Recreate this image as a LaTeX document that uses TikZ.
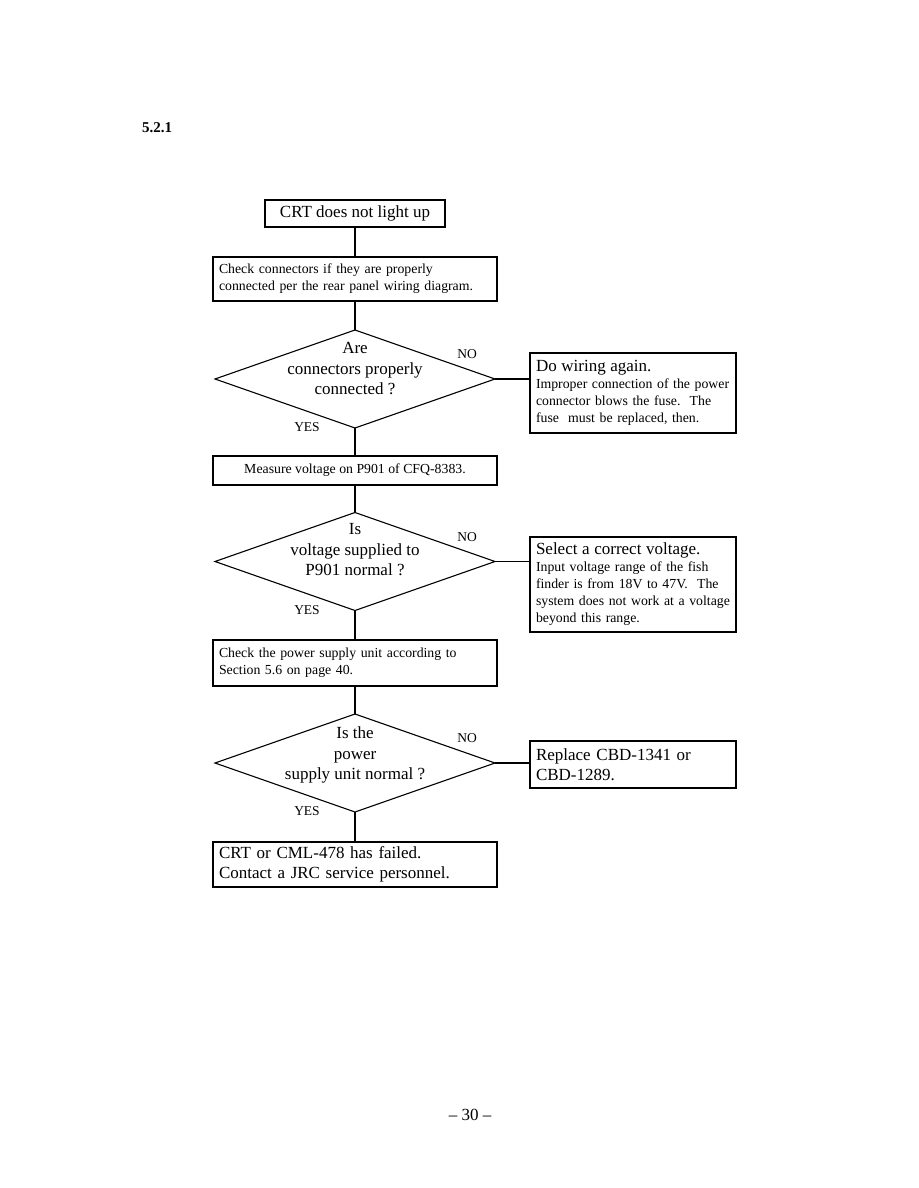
\documentclass[tikz,border=0pt]{standalone}
\usepackage{fontspec}
\setmainfont{Liberation Serif}
\usetikzlibrary{shapes.geometric}
\begin{document}
\begin{tikzpicture}[x=1pt,y=-1pt,
  line width=1.1pt,
  box/.style={draw, rectangle, inner ysep=0pt, inner xsep=6pt, outer sep=0pt},
  big/.style={font=\fontsize{17}{20.5}\selectfont},
  small/.style={font=\fontsize{13.8}{17}\selectfont},
  lbox/.style={box, align=left, text width=#1},
  dia/.style={draw, diamond, minimum width=280pt, minimum height=98pt, inner sep=0pt, outer sep=0pt},
  dtext/.style={big, align=center},
  lab/.style={font=\fontsize{13.5}{15}\selectfont},
  page/.style={inner sep=0pt}
]
\useasboundingbox (0,0) rectangle (918,1188);

\node[page, font=\fontsize{15}{18}\selectfont\bfseries] (sec) at (157,128) {5.2.1};
\node[page, font=\fontsize{17}{20}\selectfont] (pg) at (470,1115) {– 30 –};

% top
\node[box, big, minimum width=180pt, minimum height=27pt] (start) at (355,213.5) {CRT does not light up};
\node[lbox=272pt, small, minimum height=44pt] (chk) at (355,279) {Check connectors if they are properly\\connected per the rear panel wiring diagram.};

% decision 1
\node[dia] (d1) at (355,379) {};
\node[dtext] (d1t) at (355,369) {Are\\connectors properly\\connected ?};
\node[lab] (no1) at (467,354) {NO};
\node[lab] (yes1) at (307,427) {YES};
\node[lbox=194pt, small, minimum height=80pt] (wire) at (633,393) {{\fontsize{17}{20}\selectfont Do wiring again.}\\Improper connection of the power\\connector blows the fuse.\ \ The\\fuse\ \ must be replaced, then.};

\node[box, small, minimum width=284pt, minimum height=29pt] (meas) at (355,470.5) {Measure voltage on P901 of CFQ-8383.};

% decision 2
\node[dia] (d2) at (355,561.5) {};
\node[dtext] (d2t) at (355,550) {Is\\voltage supplied to\\P901 normal ?};
\node[lab] (no2) at (467,537) {NO};
\node[lab] (yes2) at (307,610) {YES};
\node[lbox=194pt, small, minimum height=95pt] (volt) at (633,584.5) {{\fontsize{17}{20}\selectfont Select a correct voltage.}\\Input voltage range of the fish\\finder is from 18V to 47V.\ \ The\\system does not work at a voltage\\beyond this range.};

\node[lbox=272pt, small, minimum height=46pt] (psu) at (355,663) {Check the power supply unit according to\\Section 5.6 on page 40.};

% decision 3
\node[dia] (d3) at (355,763) {};
\node[dtext] (d3t) at (355,755) {Is the\\power\\supply unit normal ?};
\node[lab] (no3) at (467,738) {NO};
\node[lab] (yes3) at (307,811) {YES};
\node[lbox=194pt, big, minimum height=47pt] (repl) at (633,764.5) {Replace CBD-1341 or\\CBD-1289.};

\node[lbox=272pt, big, minimum height=45pt] (fail) at (355,864.5) {CRT or CML-478 has failed.\\Contact a JRC service personnel.};

% connectors
\draw (start.south) -- (chk.north);
\draw (chk.south) -- (d1.north);
\draw (d1.south) -- (meas.north);
\draw (d1.east) -- (d1.east -| wire.west);
\draw (meas.south) -- (d2.north);
\draw (d2.south) -- (psu.north);
\draw (d2.east) -- (d2.east -| volt.west);
\draw (psu.south) -- (d3.north);
\draw (d3.south) -- (fail.north);
\draw (d3.east) -- (d3.east -| repl.west);
\end{tikzpicture}
\end{document}
